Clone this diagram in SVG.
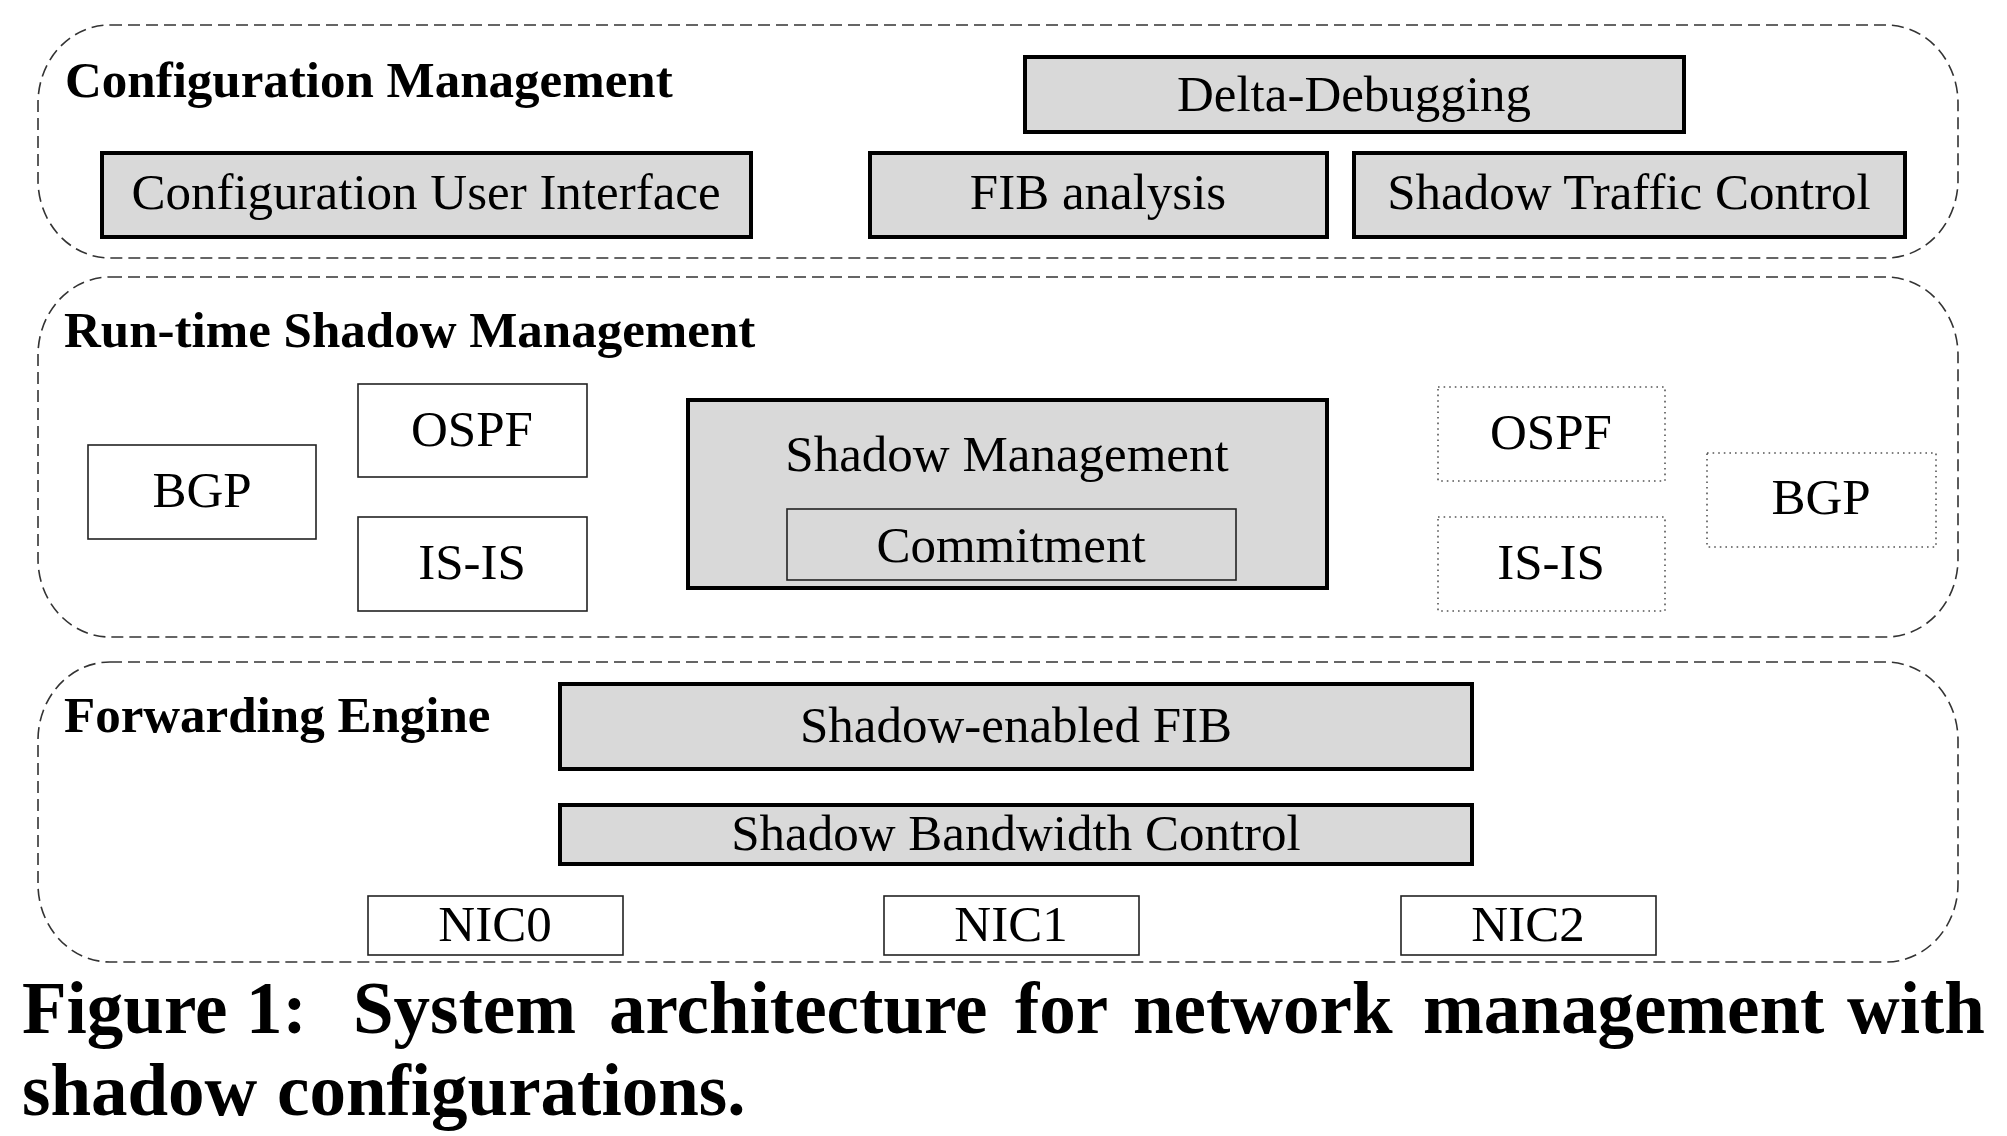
<svg xmlns="http://www.w3.org/2000/svg" width="2007" height="1136" viewBox="0 0 2007 1136">
<style>
.bg{fill:#ffffff}
.grp{fill:none;stroke:#333333;stroke-width:1.6;stroke-dasharray:12 6}
.thick{fill:#d9d9d9;stroke:#000000;stroke-width:4}
.thin{fill:#ffffff;stroke:#222222;stroke-width:1.6}
.thing{fill:none;stroke:#222222;stroke-width:1.6}
.dot{fill:#ffffff;stroke:#555555;stroke-width:1.6;stroke-dasharray:1.6 4}
.t{font-family:"Liberation Serif","Times New Roman",serif;font-size:51px;fill:#000000;text-anchor:middle}
.h{font-family:"Liberation Serif","Times New Roman",serif;font-size:51px;font-weight:bold;fill:#000000}
.cap{font-family:"Liberation Serif","Times New Roman",serif;font-size:73px;font-weight:bold;fill:#000000}
</style>
<rect class="bg" x="0" y="0" width="2007" height="1136"/>

<g id="configuration-management">
<rect class="grp" x="38" y="25" width="1920" height="233" rx="72" ry="78"/>
<text class="h" x="65" y="97">Configuration Management</text>
</g>
<g id="delta-debugging">
<rect class="thick" x="1025" y="57" width="659" height="75"/>
<text class="t" x="1354" y="111">Delta-Debugging</text>
</g>
<g id="configuration-user-interface">
<rect class="thick" x="102" y="153" width="649" height="84"/>
<text class="t" x="426" y="209">Configuration User Interface</text>
</g>
<g id="fib-analysis">
<rect class="thick" x="870" y="153" width="457" height="84"/>
<text class="t" x="1098" y="209">FIB analysis</text>
</g>
<g id="shadow-traffic-control">
<rect class="thick" x="1354" y="153" width="551" height="84"/>
<text class="t" x="1629" y="209">Shadow Traffic Control</text>
</g>

<g id="run-time-shadow-management">
<rect class="grp" x="38" y="277" width="1920" height="360" rx="72" ry="78"/>
<text class="h" x="64" y="347">Run-time Shadow Management</text>
</g>
<g id="bgp-left">
<rect class="thin" x="88" y="445" width="228" height="94"/>
<text class="t" x="202" y="507">BGP</text>
</g>
<g id="ospf-left">
<rect class="thin" x="358" y="384" width="229" height="93"/>
<text class="t" x="472" y="446">OSPF</text>
</g>
<g id="isis-left">
<rect class="thin" x="358" y="517" width="229" height="94"/>
<text class="t" x="472" y="579">IS-IS</text>
</g>
<g id="shadow-management">
<rect class="thick" x="688" y="400" width="639" height="188"/>
<text class="t" x="1007" y="471">Shadow Management</text>
</g>
<g id="commitment">
<rect class="thing" x="787" y="509" width="449" height="71"/>
<text class="t" x="1011" y="562">Commitment</text>
</g>
<g id="ospf-right">
<rect class="dot" x="1438" y="387" width="227" height="94"/>
<text class="t" x="1551" y="449">OSPF</text>
</g>
<g id="isis-right">
<rect class="dot" x="1438" y="517" width="227" height="94"/>
<text class="t" x="1551" y="579">IS-IS</text>
</g>
<g id="bgp-right">
<rect class="dot" x="1707" y="453" width="229" height="94"/>
<text class="t" x="1821" y="514">BGP</text>
</g>

<g id="forwarding-engine">
<rect class="grp" x="38" y="662" width="1920" height="300" rx="72" ry="78"/>
<text class="h" x="64" y="732">Forwarding Engine</text>
</g>
<g id="shadow-enabled-fib">
<rect class="thick" x="560" y="684" width="912" height="85"/>
<text class="t" x="1016" y="742">Shadow-enabled FIB</text>
</g>
<g id="shadow-bandwidth-control">
<rect class="thick" x="560" y="805" width="912" height="59"/>
<text class="t" x="1016" y="850">Shadow Bandwidth Control</text>
</g>
<g id="nic0">
<rect class="thin" x="368" y="896" width="255" height="59"/>
<text class="t" x="495" y="941">NIC0</text>
</g>
<g id="nic1">
<rect class="thin" x="884" y="896" width="255" height="59"/>
<text class="t" x="1011" y="941">NIC1</text>
</g>
<g id="nic2">
<rect class="thin" x="1401" y="896" width="255" height="59"/>
<text class="t" x="1528" y="941">NIC2</text>
</g>

<g id="connectors"></g>

<g id="caption">
<text class="cap" y="1033"><tspan x="22">Figure</tspan><tspan x="246">1:</tspan><tspan x="353">System</tspan><tspan x="609">architecture</tspan><tspan x="1015">for</tspan><tspan x="1133">network</tspan><tspan x="1423">management</tspan><tspan x="1847">with</tspan></text>
<text class="cap" y="1115"><tspan x="22">shadow</tspan><tspan x="277">configurations.</tspan></text>
</g>
</svg>
